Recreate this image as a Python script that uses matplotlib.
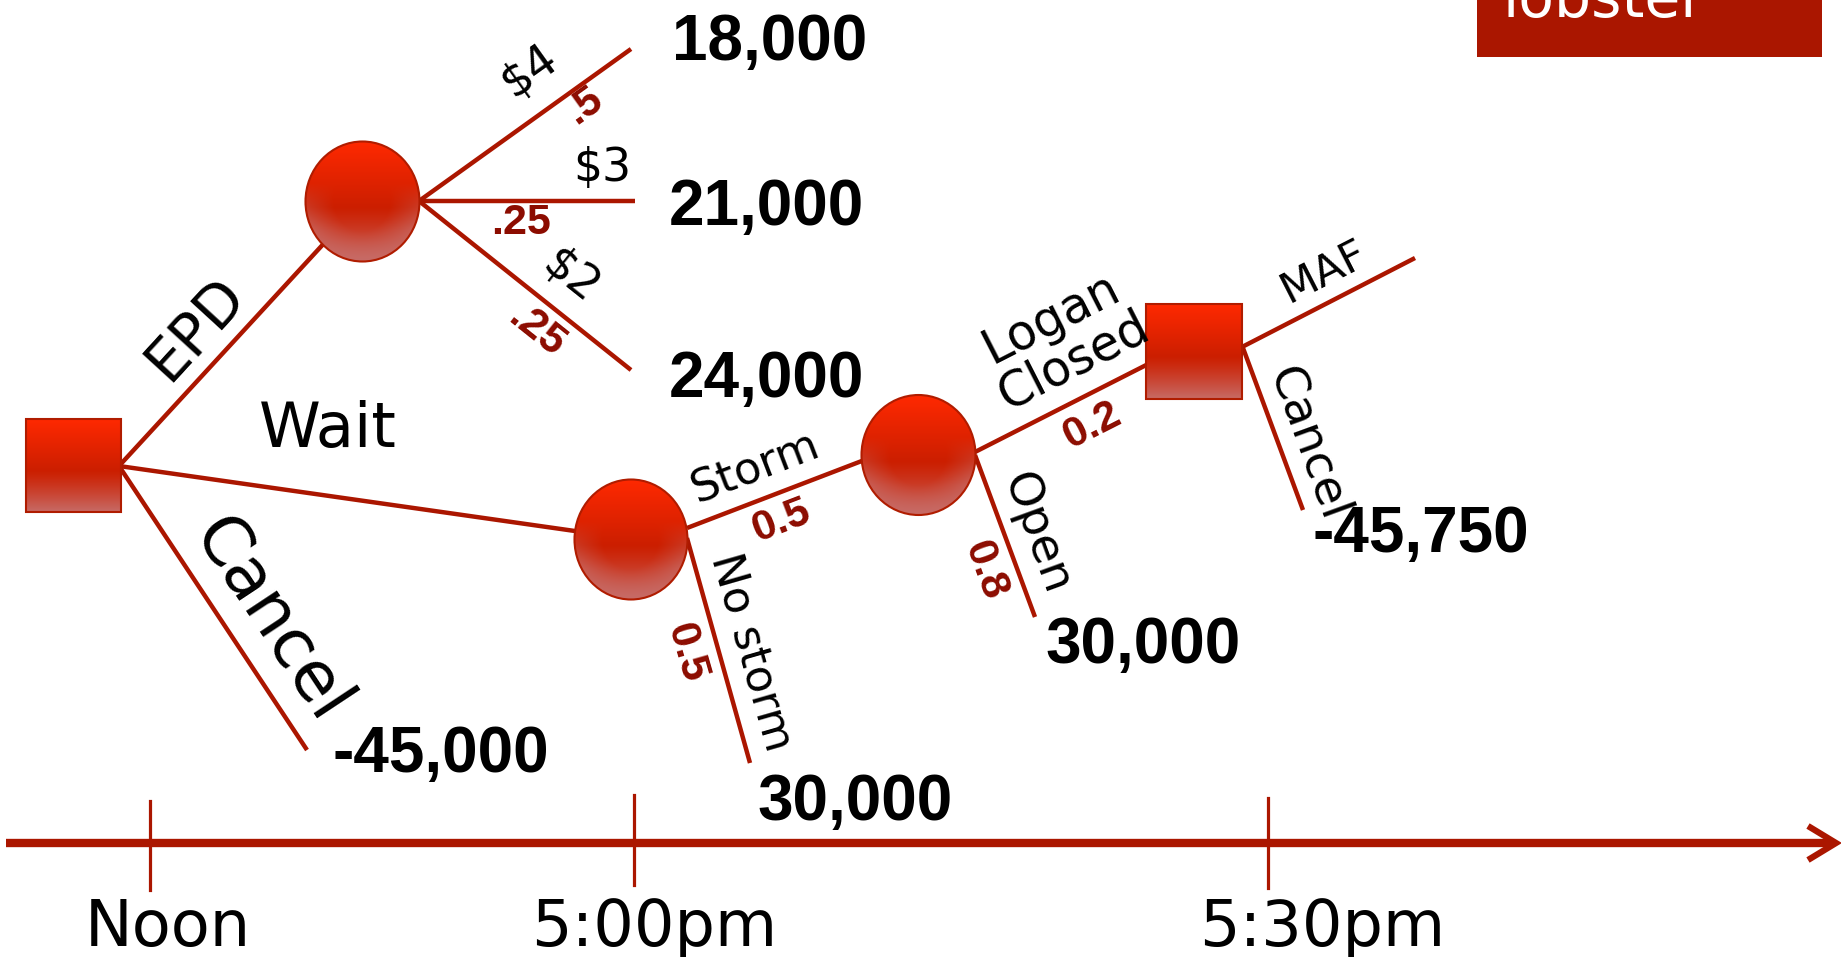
import numpy as np
import matplotlib.pyplot as plt
from matplotlib.patches import Ellipse, Rectangle

plt.rcParams['font.family'] = ['DejaVu Sans']

W, H = 1841, 957
LINE = '#ab1600'
PROB = '#8c0c00'

# tree content
first_choices = ['EPD', 'Wait', 'Cancel']
cancel_payoff = '-45,000'
price_labels = ['$4', '$3', '$2']
price_probs = ['.5', '.25', '.25']
price_payoffs = ['18,000', '21,000', '24,000']
storm_labels = ['Storm', 'No storm']
storm_probs = ['0.5', '0.5']
nostorm_payoff = '30,000'
logan_labels = ['Logan\nClosed', 'Open']
logan_probs = ['0.2', '0.8']
open_payoff = '30,000'
last_choices = ['MAF', 'Cancel']
last_cancel_payoff = '-45,750'
time_labels = ['Noon', '5:00pm', '5:30pm']
banner_text = 'lobster'

fig = plt.figure(figsize=(W / 100, H / 100), dpi=100)
ax = fig.add_axes([0, 0, 1, 1])


def node(kind, cx, cy, w, h):
    # red shaded node, square = decision, ellipse = chance
    n = 200
    v = np.linspace(0, 1, n)[:, None] * np.ones((1, n))
    u = np.ones((n, 1)) * np.linspace(-1, 1, n)[None, :]
    top = np.array([1.0, 0.16, 0.0])
    mid = np.array([0.80, 0.12, 0.0])
    low = np.array([0.78, 0.42, 0.40])
    a = np.clip(v / 0.55, 0, 1)[..., None]
    b = np.clip((v - 0.55) / 0.45, 0, 1)[..., None] ** 1.2
    col = top * (1 - a) + mid * a
    col = col * (1 - b) + low * b
    if kind == 'chance':
        rr = np.sqrt(u ** 2 + (2 * v - 1) ** 2)
        e = (np.clip((rr - 0.5) / 0.5, 0, 1) * np.clip((v - 0.35) / 0.4, 0, 1))[..., None]
        col = col * (1 - 0.7 * e) + low * 0.7 * e
        patch = Ellipse((cx, cy), w, h, facecolor='none', edgecolor='#b01c00', lw=1.5, zorder=4)
    else:
        patch = Rectangle((cx - w / 2, cy - h / 2), w, h, facecolor='none',
                          edgecolor='#b01c00', lw=1.5, zorder=4)
    ax.add_patch(patch)
    im = ax.imshow(col, extent=(cx - w / 2, cx + w / 2, cy + h / 2, cy - h / 2),
                   origin='upper', zorder=3, interpolation='bilinear')
    im.set_clip_path(patch)


def branch(x0, y0, x1, y1):
    ax.plot([x0, x1], [y0, y1], color=LINE, lw=3.2, solid_capstyle='butt', zorder=2)


def label(x, y, s, rot=0, size=31):
    ax.text(x, y, s, rotation=rot, rotation_mode='anchor', ha='center', va='center',
            fontsize=size, color='black', linespacing=1.0, zorder=5)


def prob(x, y, s, rot=0):
    ax.text(x, y, s, rotation=rot, rotation_mode='anchor', ha='center', va='center',
            fontsize=31, color=PROB, fontweight='bold', family='Liberation Sans', zorder=5)


def payoff(x, y, s):
    ax.text(x, y, s, ha='left', va='baseline', fontsize=46, fontweight='bold',
            family='Liberation Sans', color='black', zorder=6)


# first decision
branch(119, 466, 362, 202)
branch(119, 466, 631, 539)
branch(119, 466, 307, 750)
label(195, 328, first_choices[0], 47.5, 42)
label(328, 430, first_choices[1], 0, 45)
label(270, 620, first_choices[2], -56.5, 49)
payoff(333, 772, cancel_payoff)

# EPD price branches
branch(419, 201, 631, 49)
branch(419, 201, 635, 201)
branch(419, 201, 631, 370)
label(530, 71, price_labels[0], 35.6, 33)
label(602, 168, price_labels[1], 0, 33)
label(570, 277, price_labels[2], -38.6, 33)
prob(584, 106, price_probs[0], 35.6)
prob(521, 223, price_probs[1], 0)
prob(536, 331, price_probs[2], -38.6)
payoff(672, 60, price_payoffs[0])
payoff(669, 225, price_payoffs[1])
payoff(669, 397, price_payoffs[2])

# storm chance node
branch(687, 528, 880, 454)
branch(687, 538, 750, 763)
label(755, 468, storm_labels[0], 21, 32)
label(752, 652, storm_labels[1], -74, 32)
prob(781, 521, storm_probs[0], 21)
prob(686, 653, storm_probs[1], -74)
payoff(757, 820, nostorm_payoff)

# Logan chance node
branch(975, 452, 1160, 358)
branch(975, 455, 1035, 617)
label(1062, 340, logan_labels[0], 27, 35)
label(1036, 534, logan_labels[1], -70, 34)
prob(1092, 426, logan_probs[0], 27)
prob(985, 570, logan_probs[1], -70)
payoff(1045, 663, open_payoff)

# last decision
branch(1242, 347, 1415, 258)
branch(1243, 348, 1303, 510)
label(1324, 272, last_choices[0], 27, 31)
label(1308, 444, last_choices[1], -70, 34)
payoff(1313, 552, last_cancel_payoff)

# nodes
node('decision', 73.5, 465.5, 95, 93)
node('chance', 362.5, 201.5, 114, 120)
node('chance', 631, 539.5, 113, 120)
node('chance', 918.5, 455, 114, 120)
node('decision', 1194, 351.5, 96, 95)

# time line
ax.plot([6, 1832], [843, 843], color=LINE, lw=6, solid_capstyle='butt', zorder=2)
ax.plot([1808, 1836, 1808], [826, 843, 860], color=LINE, lw=4.5,
        solid_joinstyle='miter', solid_capstyle='butt', zorder=2)
for tx, ty0, ty1 in [(150, 801, 890), (634, 795, 885), (1268, 798, 888)]:
    ax.plot([tx, tx], [ty0, ty1], color=LINE, lw=2.3, zorder=2)
for tx, s in zip([168, 654, 1322], time_labels):
    ax.text(tx, 946, s, ha='center', va='baseline', fontsize=46, color='black')

# banner in the corner, cut off by the top edge
ax.add_patch(Rectangle((1477, -80), 345, 137, facecolor='#aa1600', edgecolor='none', zorder=1))
ax.text(1503, 17, banner_text, ha='left', va='baseline', fontsize=42, color='white',
        zorder=2, clip_on=True)

ax.set_xlim(0, W)
ax.set_ylim(H, 0)
ax.set_aspect('auto')
ax.axis('off')

plt.savefig('out.png', dpi=100)
